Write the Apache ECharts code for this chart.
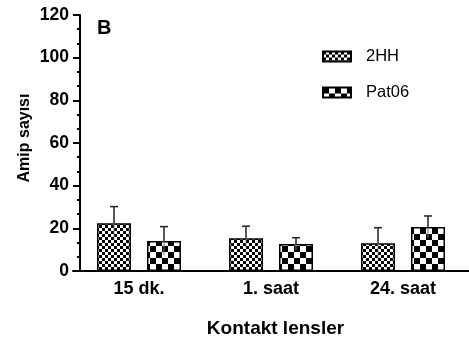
<!DOCTYPE html>
<html>
<head>
<meta charset="utf-8">
<script src="https://cdn.jsdelivr.net/npm/echarts@6/dist/echarts.min.js"></script>
<style>html,body{margin:0;padding:0;background:#fff;}#c{width:469px;height:349px;}</style>
</head>
<body>
<div id="c"></div>
<script>
var categories = ['15 dk.', '1. saat', '24. saat'];
var seriesNames = ['2HH', 'Pat06'];
var hhMean = [22.4, 15.3, 13.0];
var hhSD = [7.8, 5.7, 7.3];
var patMean = [14.1, 12.7, 20.6];
var patSD = [6.7, 2.9, 5.2];
var yTicks = [0, 20, 40, 60, 80, 100, 120];
var xTitle = 'Kontakt lensler';
var yTitle = 'Amip sayısı';
var panelLabel = 'B';

var FONT = "'Liberation Sans', Arial, sans-serif";

function checker(cell) {
  var c = document.createElement('canvas');
  c.width = cell * 2; c.height = cell * 2;
  var ctx = c.getContext('2d');
  ctx.fillStyle = '#fff'; ctx.fillRect(0, 0, c.width, c.height);
  ctx.fillStyle = '#000';
  ctx.fillRect(0, 0, cell, cell);
  ctx.fillRect(cell, cell, cell, cell);
  return { image: c, repeat: 'repeat' };
}

var fine = checker(3);
var coarse = checker(6);

function errSeries(means, sds, offset) {
  var data = means.map(function (m, i) { return [i, m, sds[i]]; });
  return {
    type: 'custom',
    z: 10,
    silent: true,
    data: data,
    renderItem: function (params, api) {
      var i = api.value(0), m = api.value(1), s = api.value(2);
      var p = api.coord([i, m]);
      var hi = api.coord([i, m + s]);
      var lo = api.coord([i, Math.max(0, m - s)]);
      var x = p[0] + offset;
      return {
        type: 'group',
        children: [
          { type: 'line', shape: { x1: x, y1: p[1], x2: x, y2: lo[1] },
            style: { stroke: '#777', lineWidth: 1 } },
          { type: 'line', shape: { x1: x, y1: p[1], x2: x, y2: hi[1] },
            style: { stroke: '#222', lineWidth: 1.5 } },
          { type: 'line', shape: { x1: x - 4, y1: hi[1], x2: x + 4, y2: hi[1] },
            style: { stroke: '#222', lineWidth: 1.5 } }
        ]
      };
    }
  };
}

var chart = echarts.init(document.getElementById('c'), null, { renderer: 'canvas' });
chart.setOption({
  animation: false,
  backgroundColor: '#fff',
  textStyle: { fontFamily: FONT },
  grid: { left: 73, top: 15, width: 400.5, height: 256 },
  legend: {
    orient: 'vertical',
    left: 317, top: 43,
    itemWidth: 28, itemHeight: 10, itemGap: 19,
    icon: 'rect',
    data: seriesNames,
    textStyle: { fontFamily: FONT, fontSize: 16.5, color: '#000', padding: [0, 0, 0, 10] }
  },
  xAxis: {
    type: 'category',
    data: categories,
    axisLine: { lineStyle: { color: '#000', width: 2 } },
    axisTick: { alignWithLabel: true, length: 6, lineStyle: { color: '#000', width: 2 } },
    axisLabel: { fontFamily: FONT, fontSize: 18, fontWeight: 'bold', color: '#000', margin: 9 }
  },
  yAxis: {
    type: 'value',
    min: yTicks[0], max: yTicks[yTicks.length - 1], interval: 20,
    offset: -7,
    axisLine: { show: true, lineStyle: { color: '#000', width: 2 } },
    axisTick: { show: true, length: 7, lineStyle: { color: '#000', width: 2 } },
    minorTick: { show: true, splitNumber: 3, length: 3, lineStyle: { color: '#000', width: 2 } },
    splitLine: { show: false },
    axisLabel: { fontFamily: FONT, fontSize: 17.5, fontWeight: 'bold', color: '#000', margin: 11 }
  },
  graphic: [
    { type: 'text', left: 97, top: 18,
      style: { text: panelLabel, font: 'bold 20px ' + FONT, fill: '#000' } },
    { type: 'text', x: 275.5, y: 329,
      style: { text: xTitle, font: 'bold 19px ' + FONT, fill: '#000', align: 'center', verticalAlign: 'middle' } },
    { type: 'text', x: 25, y: 138, rotation: Math.PI / 2,
      style: { text: yTitle, font: 'bold 16px ' + FONT, fill: '#000', align: 'center', verticalAlign: 'middle' } }
  ],
  series: [
    { name: seriesNames[0], type: 'bar', data: hhMean, barWidth: 34, barGap: '47%',
      itemStyle: { color: fine, borderColor: '#000', borderWidth: 1.5 } },
    { name: seriesNames[1], type: 'bar', data: patMean, barWidth: 34, barGap: '47%',
      itemStyle: { color: coarse, borderColor: '#000', borderWidth: 1.5 } },
    errSeries(hhMean, hhSD, -25),
    errSeries(patMean, patSD, 25)
  ]
});
</script>
</body>
</html>
